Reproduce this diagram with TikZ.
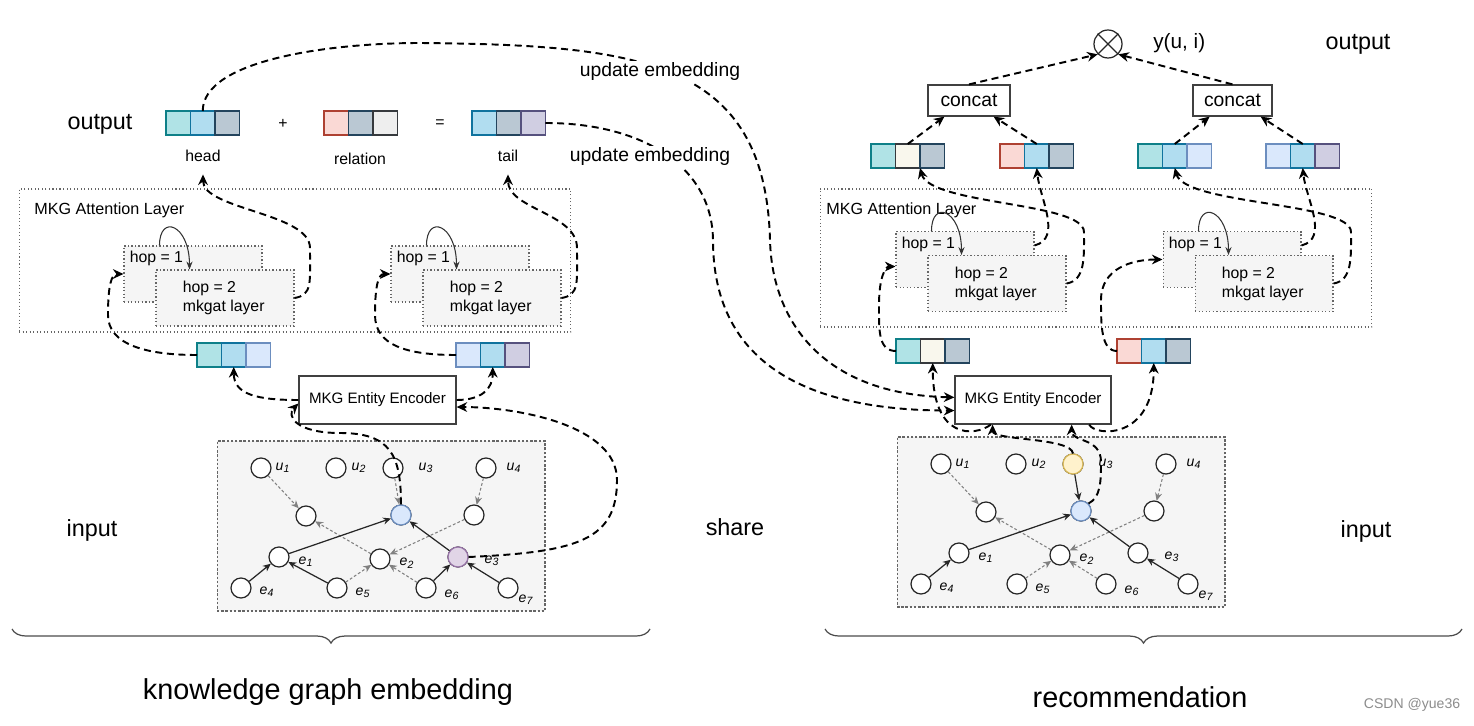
\documentclass[tikz,border=0pt]{standalone}
\usepackage{fontspec}
\setmainfont{Liberation Sans}
\usetikzlibrary{arrows.meta,positioning,decorations.pathreplacing}

\definecolor{cteal}{HTML}{B0E3E6}\definecolor{dteal}{HTML}{0E8088}
\definecolor{cblue}{HTML}{B1DDF0}\definecolor{dblue}{HTML}{10739E}
\definecolor{cgrey}{HTML}{BAC8D3}\definecolor{dgrey}{HTML}{23445D}
\definecolor{cpink}{HTML}{FAD9D5}\definecolor{dpink}{HTML}{AE4132}
\definecolor{clight}{HTML}{EEEEEE}\definecolor{dlight}{HTML}{36393D}
\definecolor{cpurple}{HTML}{D0CEE2}\definecolor{dpurple}{HTML}{56517E}
\definecolor{cpale}{HTML}{DAE8FC}\definecolor{dpale}{HTML}{6C8EBF}
\definecolor{ccream}{HTML}{F9F7ED}\definecolor{dcream}{HTML}{36393D}
\definecolor{cyellow}{HTML}{FFF2CC}\definecolor{dyellow}{HTML}{D6B656}
\definecolor{cviolet}{HTML}{E1D5E7}\definecolor{dviolet}{HTML}{9673A6}
\definecolor{cbox}{HTML}{F5F5F5}\definecolor{dbox}{HTML}{666666}

\newcommand{\fsz}[1]{\fontsize{#1}{#1}\selectfont}

\tikzset{
  vcell/.style={draw=d#1, fill=c#1, line width=0.7pt, minimum width=0.49cm, minimum height=0.48cm, inner sep=0pt, outer sep=0pt},
  txt/.style={inner sep=0pt, font=\fsz{#1}},
  hopbox/.style={draw=dbox, fill=cbox, line width=0.6pt, dash pattern=on 0.8pt off 1.2pt, minimum width=2.76cm, minimum height=1.12cm},
  layerbox/.style={draw=dbox, line width=0.6pt, dash pattern=on 0.6pt off 1.4pt, minimum width=11.04cm},
  graphbox/.style={draw=dbox, fill=cbox, line width=0.6pt, dash pattern=on 1.4pt off 1pt, minimum width=6.56cm, minimum height=3.4cm},
  plainbox/.style={draw=black!75, fill=white, line width=0.7pt, inner sep=0pt},
  gnode/.style={circle, draw=black!85, fill=white, line width=0.7pt, minimum size=0.4cm, inner sep=0pt},
  gfill/.style={gnode, draw=d#1, fill=c#1},
  glab/.style={inner sep=0pt, font=\fsz{8}\itshape},
  solidarr/.style={draw=black!85, line width=0.7pt, -{Stealth[length=4.5pt,width=4pt]}},
  greyarr/.style={draw=black!50, line width=0.6pt, dash pattern=on 1.6pt off 1.2pt, -{Stealth[length=4.5pt,width=4pt]}},
  flow/.style={draw=black, line width=1.1pt, dash pattern=on 4pt off 2.6pt, -{Stealth[length=6pt,width=5.5pt]}},
  loopar/.style={draw=black!80, line width=0.6pt, -{Stealth[length=4.5pt,width=3.5pt]}},
  bracestyle/.style={draw=black!70, line width=0.7pt, decorate, decoration={brace, mirror, amplitude=8pt}},
}

\begin{document}
\begin{tikzpicture}[x=0.02cm, y=-0.02cm]
\useasboundingbox (0,0) rectangle (1474,726);

% attention layers
\node[layerbox, minimum height=2.86cm] (katt) at (295,260.5) {};
\node[layerbox, minimum height=2.76cm] (ratt) at (1096,258) {};
\node[txt=9.2, anchor=west] (katt-t) at (34,210) {MKG Attention Layer};
\node[txt=9.2, anchor=west] (ratt-t) at (826,210) {MKG Attention Layer};

\foreach \h/\x/\y in {khopa/193/274, khopb/460/274, rhopa/965/259.5, rhopb/1232/259.5}{
  \node[hopbox] (\h1) at (\x,\y) {};
  \node[hopbox] (\h2) at (\x+32,\y+24) {};
  \node[txt=9, anchor=west] (\h1-t) at ([shift={(6,13)}]\h1.north west) {hop = 1};
  \node[txt=9, anchor=west] (\h2-t) at ([shift={(27,19)}]\h2.north west) {hop = 2};
  \node[txt=9, anchor=west] (\h2-s) at ([shift={(27,38)}]\h2.north west) {mkgat layer};
  \draw[loopar] ([shift={(36,0)}]\h1.north west) .. controls +(0,-32) and +(0,-45) .. ([shift={(34,0)}]\h2.north west);
}

% graphs
\node[graphbox] (kgraph) at (381,526) {};
\node[graphbox] (rgraph) at (1061,522) {};
\foreach \p/\dx/\dy in {k/0/0, r/680/-4}{
  \begin{scope}[shift={(\dx,\dy)}]
    \foreach \n/\x/\y in {u1/261/468, u2/336/468, u3/393/468, u4/486/468, m1/306/516, m2/401/515, m3/474/515,
                          e1/279/557, e2/380/559, e3/458/557, e4/241/588, e5/337/588, e6/426/588, e7/508/588}
      \node[gnode] (\p-\n) at (\x,\y) {};
    \foreach \ltr/\idx/\x/\y in {u/1/283/468, u/2/359/468, u/3/426/468, u/4/514/468, e/1/306/562, e/2/407/563,
                                 e/3/492/561, e/4/267/592, e/5/363/593, e/6/452/595, e/7/526/600}
      \node[glab] (\p-\ltr\idx-t) at (\x,\y) {\ltr\textsubscript{\idx}};
  \end{scope}
}
\node[gfill=pale] (k-m2) at (k-m2) {};
\node[gfill=violet] (k-e3) at (k-e3) {};
\node[gfill=pale] (r-m2) at (r-m2) {};
\node[gfill=yellow] (r-u3) at (r-u3) {};

\foreach \p in {k,r}{
  \foreach \sa/\sb in {u1/m1, u4/m3, e2/m1, m3/e2, e5/e2, e6/e2}
    \draw[greyarr] (\p-\sa) -- (\p-\sb);
  \foreach \sa/\sb in {e1/m2, e4/e1, e3/m2, e7/e3}
    \draw[solidarr] (\p-\sa) -- (\p-\sb);
}
\draw[greyarr] (k-u3) -- (k-m2);
\draw[solidarr] (k-e5) -- (k-e1);
\draw[solidarr] (k-e6) -- (k-e3);
\draw[solidarr] (r-u3) -- (r-m2);

% embeddings
\foreach \v/\x/\y/\fa/\fb/\fc in {khead/166/111/teal/blue/grey, krel/324/111/pink/grey/light, ktail/472/111/blue/grey/purple,
    klA/197/343/teal/blue/pale, klB/456/343/pale/blue/purple, rtA/871/144/teal/cream/grey, rtB/1000/144/pink/blue/grey,
    rtC/1138/144/teal/blue/pale, rtD/1266/144/pale/blue/purple, rlA/896/339/teal/cream/grey, rlB/1117/339/pink/blue/grey}{
  \node[vcell=\fa, anchor=north west] (\v1) at (\x,\y) {};
  \node[vcell=\fb, right=0pt of \v1] (\v2) {};
  \node[vcell=\fc, right=0pt of \v2] (\v3) {};
}

% texts
\node[txt=13.3] (kout) at (100,124) {output};
\node[txt=9] (kplus) at (283,124) {+};
\node[txt=9] (keq) at (440,124) {=};
\node[txt=9] (khead-t) at (203,156) {head};
\node[txt=9] (krel-t) at (360,159) {relation};
\node[txt=9] (ktail-t) at (508,156) {tail};
\node[txt=13.3] (kin) at (92,530) {input};
\node[txt=13.3] (share) at (735,527) {share};
\node[txt=13.3] (rout) at (1358,44) {output};
\node[txt=13.3] (rin) at (1366,531) {input};
\node[txt=16.4] (ktitle) at (328,692) {knowledge graph embedding};
\node[txt=16.4] (rtitle) at (1140,697) {recommendation};
\node[txt=8, text=black!45] (mark) at (1412,705) {CSDN @yue36};

% encoders, concat, product
\node[plainbox, minimum width=3.14cm, minimum height=0.96cm, font=\fsz{8.6}] (kenc) at (377.5,400) {MKG Entity Encoder};
\node[plainbox, minimum width=3.12cm, minimum height=0.96cm, font=\fsz{8.6}] (renc) at (1033,400) {MKG Entity Encoder};
\node[plainbox, minimum width=1.64cm, minimum height=0.62cm, font=\fsz{11}] (rcatA) at (969,100.5) {concat};
\node[plainbox, minimum width=1.58cm, minimum height=0.62cm, font=\fsz{11}] (rcatB) at (1232.5,100.5) {concat};
\node[circle, draw=black!85, line width=0.7pt, minimum size=0.56cm, inner sep=0pt] (rprod) at (1108,44) {};
\draw[black!85, line width=0.7pt] (rprod.north west) -- (rprod.south east) (rprod.north east) -- (rprod.south west);
\node[txt=11.8, anchor=west] (rscore) at (1153,43) {y(u, i)};

% kg embedding links
\draw[flow] (kenc.west) .. controls +(-40,0) and +(0,28) .. (klA2.south);
\draw[flow] (kenc.east) .. controls +(25,0) and +(0,22) .. (klB2.south);
\draw[flow] (k-m2.north) .. controls +(0,-50) and +(50,0) .. (340,433) .. controls +(-45,0) and +(-12,12) .. ([yshift=-2pt]kenc.west);
\draw[flow] (k-e3.east) .. controls +(110,-5) and +(0,60) .. (617,480) .. controls +(0,-55) and +(60,0) .. ([yshift=-4pt]kenc.east);
\draw[flow] (klA1.west) .. controls +(-50,0) and +(0,30) .. (108,315) .. controls +(0,-30) and +(-12,0) .. (khopa1.west);
\draw[flow] (klB1.west) .. controls +(-50,0) and +(0,30) .. (375,315) .. controls +(0,-30) and +(-12,0) .. (khopb1.west);
\draw[flow] (khopa2.east) .. controls +(18,-3) and +(0,35) .. (310,248) .. controls +(0,-35) and +(0,35) .. ([yshift=-7pt]khead-t.south);
\draw[flow] (khopb2.east) .. controls +(18,-3) and +(0,35) .. (577,248) .. controls +(0,-35) and +(0,35) .. ([yshift=-7pt]ktail-t.south);

% shared embeddings
\draw[flow] (khead2.north) .. controls +(0,-51) and +(-90,0) .. (420,43) .. controls +(220,2) and +(-5,-180) .. (770,240)
  .. controls +(2,80) and +(-133,-3) .. ([yshift=1.5pt]renc.west);
\draw[flow] (ktail3.east) .. controls +(95,0) and +(-1,-75) .. (713,240) .. controls +(0,120) and +(-153,0) .. ([yshift=-6pt]renc.west);
\node[txt=11, fill=white, inner sep=1pt] (upd1) at (660,72) {update embedding};
\node[txt=11, fill=white, inner sep=1pt] (upd2) at (650,157) {update embedding};

% recommendation links
\draw[flow] (rlA1.west) .. controls +(-18,0) and +(0,25) .. (879,305) .. controls +(0,-28) and +(-10,0) .. ([yshift=-4pt]rhopa1.west);
\draw[flow] (rlB1.west) .. controls +(-16,0) and +(0,25) .. (1101,300) .. controls +(0,-32) and +(-30,0) .. (rhopb1.west);
\draw[flow] ([yshift=8pt]rhopa1.east) .. controls +(28,-7) and +(3,30) .. (rtB2.south);
\draw[flow] (rhopa2.east) .. controls +(19,-3) and +(0,25) .. (1084,232) .. controls +(0,-30) and +(10,37) .. (rtA3.south west);
\draw[flow] ([yshift=8pt]rhopb1.east) .. controls +(28,-7) and +(3,30) .. (rtD2.south);
\draw[flow] (rhopb2.east) .. controls +(19,-3) and +(0,25) .. (1351,232) .. controls +(0,-30) and +(10,37) .. (rtC2.south);
\draw[flow] (rtA2.north) -- ([xshift=-14pt]rcatA.south);
\draw[flow] (rtB2.north) -- ([xshift=14pt]rcatA.south);
\draw[flow] (rtC2.north) -- ([xshift=-13pt]rcatB.south);
\draw[flow] (rtD2.north) -- ([xshift=16pt]rcatB.south);
\draw[flow] (rcatA.north) -- (rprod.225);
\draw[flow] (rcatB.north) -- (rprod.-45);
\draw[flow] ([xshift=-24pt]renc.south) .. controls +(-16,12) and +(0,77) .. (rlA2.south);
\draw[flow] (r-u3.north) .. controls +(-2,-16) and +(0,16) .. ([xshift=-23pt]renc.south);
\draw[flow] (r-m2.45) .. controls +(12,-6) and +(0,20) .. (1101,462) .. controls +(0,-25) and +(0,18) .. ([xshift=22pt]renc.south);
\draw[flow] ([xshift=32pt]renc.south) .. controls +(6,12) and +(0,77) .. (rlB2.south);

% braces
\coordinate (kbraceL) at (12,629);
\coordinate (kbraceR) at (650,629);
\coordinate (rbraceL) at (825,629);
\coordinate (rbraceR) at (1462,629);
\draw[bracestyle] (kbraceL) -- (kbraceR);
\draw[bracestyle] (rbraceL) -- (rbraceR);
\end{tikzpicture}
\end{document}
